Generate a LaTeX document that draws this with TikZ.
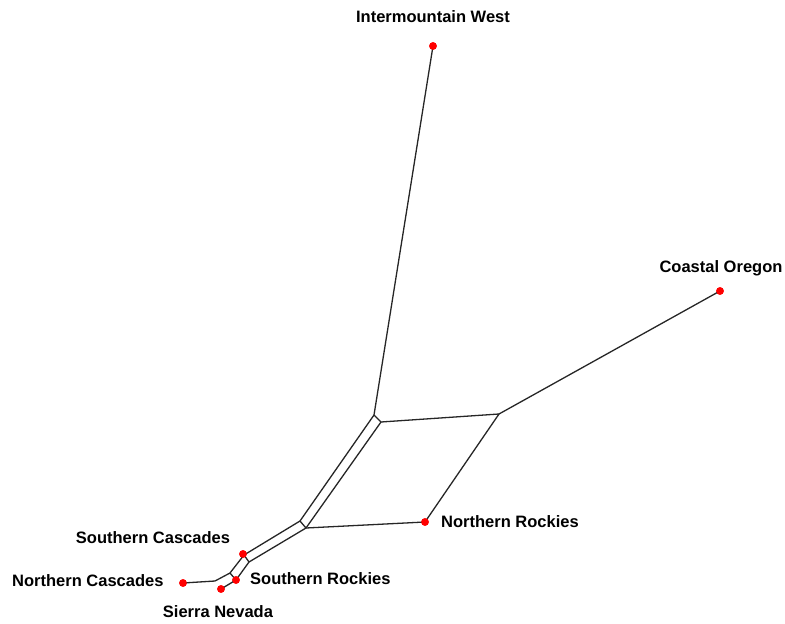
\documentclass[tikz,border=0pt]{standalone}
\usepackage{fontspec}
\setmainfont{Liberation Sans}
\begin{document}
\begin{tikzpicture}[x=1pt,y=-1pt,
  edge/.style={black!85,line width=1.3pt},
  taxon/.style={circle,fill=red,inner sep=0pt,minimum size=7.6pt},
  lbl/.style={font=\fontsize{16.5}{18}\selectfont\bfseries,inner sep=0pt}]
\useasboundingbox (0,0) rectangle (785,624);
% taxa
\node[taxon] (iw) at (433,46) {};
\node[taxon] (co) at (720,291) {};
\node[taxon] (nr) at (425,522) {};
\node[taxon] (sc) at (243,554) {};
\node[taxon] (nc) at (183,583) {};
\node[taxon] (sr) at (236,580) {};
\node[taxon] (sn) at (221,589) {};
% internal points
\coordinate (p1) at (374,415);
\coordinate (p3) at (381,422);
\coordinate (p2) at (300,521);
\coordinate (p4) at (306,528);
\coordinate (q1) at (499,414);
\coordinate (s1) at (244,555);
\coordinate (s2) at (249,562);
\coordinate (a) at (230,573);
\coordinate (b) at (215,581);
% edges
\draw[edge] (iw.center) -- (p1);
\draw[edge] (p1) -- (p3);
\draw[edge] (p1) -- (p2);
\draw[edge] (p3) -- (p4);
\draw[edge] (p2) -- (p4);
\draw[edge] (p3) -- (q1);
\draw[edge] (q1) -- (co.center);
\draw[edge] (q1) -- (nr.center);
\draw[edge] (p4) -- (nr.center);
\draw[edge] (p2) -- (s1);
\draw[edge] (p4) -- (s2);
\draw[edge] (s1) -- (s2);
\draw[edge] (s1) -- (a);
\draw[edge] (s2) -- (sr.center);
\draw[edge] (a) -- (sr.center);
\draw[edge] (a) -- (b);
\draw[edge] (b) -- (nc.center);
\draw[edge] (sr.center) -- (sn.center);
% redraw dots on top
\foreach \n in {iw,co,nr,sc,nc,sr,sn} \fill[red] (\n) circle (3.8pt);
% labels
\node[lbl] (liw) at (433,17) {Intermountain West};
\node[lbl] (lco) at (721,268) {Coastal Oregon};
\node[lbl,anchor=west] (lnr) at (441,522) {Northern Rockies};
\node[lbl] (lsc) at (153,538) {Southern Cascades};
\node[lbl,anchor=west] (lnc) at (12,581) {Northern Cascades};
\node[lbl,anchor=west] (lsr) at (250,579) {Southern Rockies};
\node[lbl] (lsn) at (218,612) {Sierra Nevada};
\end{tikzpicture}
\end{document}
